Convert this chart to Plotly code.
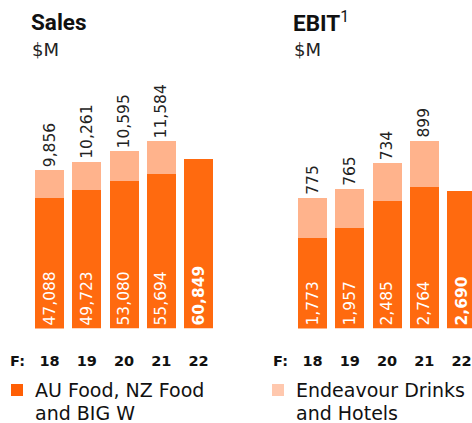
import plotly.graph_objects as go

years = ["18", "19", "20", "21", "22"]
sales_core = [47088, 49723, 53080, 55694, 60849]
sales_edg = [9856, 10261, 10595, 11584, None]
ebit_core = [1773, 1957, 2485, 2764, 2690]
ebit_edg = [775, 765, 734, 899, None]
legend_core = ["AU Food, NZ Food", "and BIG W"]
legend_edg = ["Endeavour Drinks", "and Hotels"]

ORANGE = "#FF6A0F"
LIGHT = "#FFB38C"
LEG_ORANGE = "#FF5F05"
LEG_LIGHT = "#FFC8AE"
FONT = "DejaVu Sans"
TFONT = "Roboto"

W, H = 472, 423
base_px = 328.5
top_px = 60
step = 37.25
left_c0 = 49.5
right_c0 = 312.5
mid = 236
bar_w = 29 / step

sales_scale = 0.00278   # px per $M
ebit_scale = 0.0513

def fmt(v, bold=False):
    s = f"{v:,}"
    return f"<b>{s}</b>" if bold else s

xs = list(range(len(years)))

fig = go.Figure()

def add_panel(core, edg, xa, ya):
    n = len(core)
    fig.add_trace(go.Bar(
        x=xs, y=core, width=bar_w, marker_color=ORANGE, marker_line_width=0,
        text=[fmt(v, i == n - 1) for i, v in enumerate(core)],
        textposition="inside", insidetextanchor="start", textangle=-90,
        textfont=dict(family=FONT, size=15.5, color="white"),
        constraintext="none", showlegend=False, xaxis=xa, yaxis=ya,
        hoverinfo="skip"))
    ex = [x for x, v in zip(xs, edg) if v is not None]
    ev = [v for v in edg if v is not None]
    fig.add_trace(go.Bar(
        x=ex, y=ev, width=bar_w, marker_color=LIGHT, marker_line_width=0,
        text=[fmt(v) for v in ev],
        textposition="outside", textangle=-90, cliponaxis=False,
        textfont=dict(family=FONT, size=15.5, color="#222222"),
        constraintext="none", showlegend=False, xaxis=xa, yaxis=ya,
        hoverinfo="skip"))

add_panel(sales_core, sales_edg, "x", "y")
add_panel(ebit_core, ebit_edg, "x2", "y2")

ydom = [(H - base_px) / H, (H - top_px) / H]
tickvals = [-0.86] + xs
ticktext = ["<b>F:</b>"] + [f"<b>{y}</b>" for y in years]
xcommon = dict(tickvals=tickvals, ticktext=ticktext, showgrid=False, zeroline=False,
               showline=False, ticks="", ticklabelstandoff=22,
               tickfont=dict(family=FONT, size=14.5, color="#111111"))
ycommon = dict(visible=False, domain=ydom)

def px_x(p):
    return p / W

def px_y(p):
    return 1 - p / H

shapes = [
    dict(type="rect", xref="paper", yref="paper", line_width=0, fillcolor=LEG_ORANGE,
         x0=px_x(11), x1=px_x(23), y0=px_y(396), y1=px_y(384)),
    dict(type="rect", xref="paper", yref="paper", line_width=0, fillcolor=LEG_LIGHT,
         x0=px_x(272), x1=px_x(284), y0=px_y(396), y1=px_y(384)),
]

def ann(text, xp, yp, size, color="#111111", yanchor="middle", family=FONT):
    return dict(text=text, x=px_x(xp), y=px_y(yp), xref="paper", yref="paper",
                xanchor="left", yanchor=yanchor, showarrow=False, align="left",
                borderpad=0,
                font=dict(family=family, size=size, color=color))

annotations = [
    ann("<b>Sales</b>", 30, 22, 22.5, family=TFONT),
    ann("$M", 31, 49, 18, "#222222"),
    ann("<b>EBIT</b><sup>1</sup>", 292, 22, 22.5, family=TFONT),
    ann("$M", 293, 49, 18, "#222222"),
    ann(legend_core[0], 34, 390, 19),
    ann(legend_core[1], 34, 412.5, 19),
    ann(legend_edg[0], 295, 390, 19),
    ann(legend_edg[1], 295, 412.5, 19),
]

fig.update_layout(
    width=W, height=H, margin=dict(l=0, r=0, t=0, b=0),
    paper_bgcolor="white", plot_bgcolor="white", barmode="stack",
    showlegend=False,
    font=dict(family=FONT, color="#111111"),
    xaxis=dict(domain=[0, mid / W], range=[-left_c0 / step, (mid - left_c0) / step], **xcommon),
    xaxis2=dict(domain=[mid / W, 1], range=[(mid - right_c0) / step, (W - right_c0) / step], **xcommon),
    yaxis=dict(range=[0, (base_px - top_px) / sales_scale], **ycommon),
    yaxis2=dict(range=[0, (base_px - top_px) / ebit_scale], anchor="x2", **ycommon),
    shapes=shapes,
    annotations=annotations,
)
fig.data[2].update(xaxis="x2", yaxis="y2")
fig.data[3].update(xaxis="x2", yaxis="y2")

fig.write_html("out.html", config={"displayModeBar": False},
               post_script="document.body.style.margin='0px';document.body.style.overflow='hidden';")
